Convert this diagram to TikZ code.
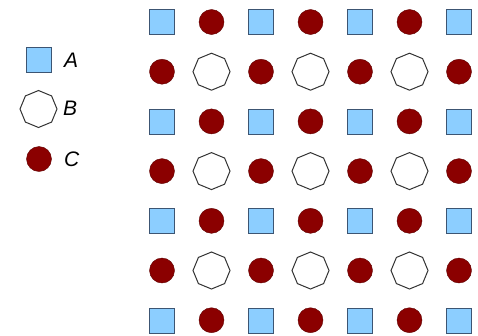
\documentclass[tikz,border=0pt]{standalone}
\usepackage{fontspec}
\setmainfont{Liberation Sans}
\usetikzlibrary{shapes.geometric}
\definecolor{skyblue}{RGB}{140,206,255}
\definecolor{sqedge}{RGB}{60,85,115}
\definecolor{darkred}{RGB}{139,0,0}
\definecolor{rededge}{RGB}{95,0,0}

\begin{document}
\begin{tikzpicture}[x=1pt,y=-1pt,
  site0/.style={draw=sqedge, fill=skyblue, minimum size=25pt, inner sep=0pt},
  site1/.style={circle, draw=rededge, fill=darkred, minimum size=25pt, inner sep=0pt},
  site2/.style={site1},
  site3/.style={regular polygon, regular polygon sides=8, shape border rotate=22.5, draw=black!80, line width=1pt, fill=white, minimum size=37pt, inner sep=0pt},
  keylabel/.style={font=\fontsize{21}{25}\selectfont\itshape, anchor=west, inner sep=0pt}]
\useasboundingbox (0,0) rectangle (478,335);
% legend
\node[site0] (keya) at (38.5,60) {};
\node[site3] (keyb) at (38.5,109) {};
\node[site1] (keyc) at (39,159) {};
\node[keylabel] (laba) at (64,60) {A};
\node[keylabel] (labb) at (63,108) {B};
\node[keylabel] (labc) at (64,159) {C};
% lattice
\foreach \i in {0,...,6}{
  \foreach \j in {0,...,6}{
    \pgfmathtruncatemacro{\p}{mod(\i,2)+2*mod(\j,2)}
    \node[site\p] (s-\i-\j) at (162+49.5*\i, 22+49.7*\j) {};
  }
}
\end{tikzpicture}
\end{document}
